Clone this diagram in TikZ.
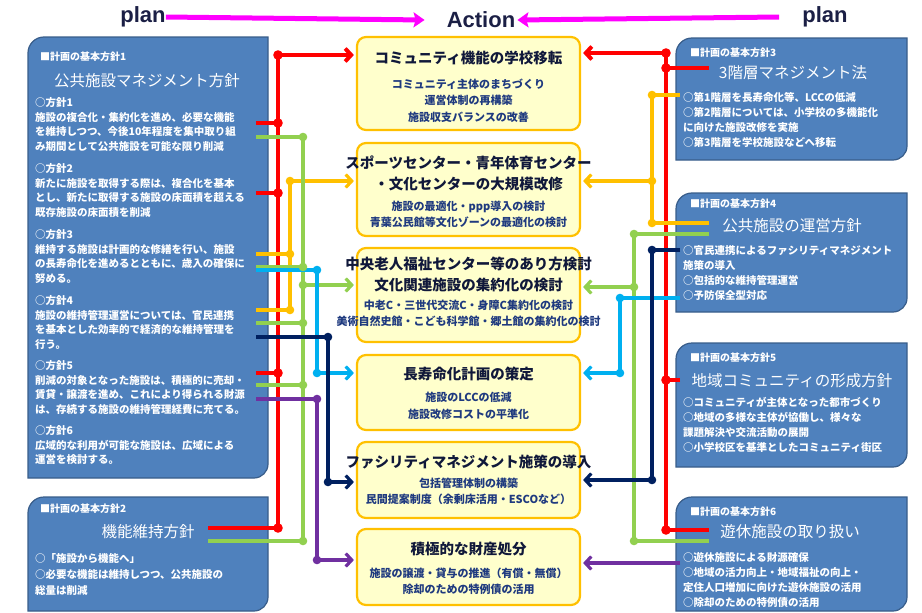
\documentclass[tikz,border=0pt]{standalone}
\usepackage{fontspec}
\usepackage{xcolor}
\usepackage{tikz}
\usetikzlibrary{arrows.meta}
\newfontfamily\jp{Noto Sans CJK JP}
\newfontfamily\lat{Liberation Sans}
\definecolor{cRed}{RGB}{255,0,0}
\definecolor{cGreen}{RGB}{146,208,80}
\definecolor{cYellow}{RGB}{255,192,0}
\definecolor{cCyan}{RGB}{0,176,240}
\definecolor{cNavy}{RGB}{0,32,96}
\definecolor{cPurple}{RGB}{112,48,160}

\begin{document}
\begin{tikzpicture}[x=1pt,y=1pt,yscale=-1,xscale=1,
  planbox/.style={draw={rgb,255:red,56;green,93;blue,138}, fill={rgb,255:red,79;green,129;blue,189}, line width=1.2pt},
  actbox/.style={draw=cYellow, fill={rgb,255:red,255;green,255;blue,204}, line width=2.2pt, rounded corners=9pt, minimum width=223pt, inner sep=0pt},
  headtxt/.style={text=white, font=\jp\bfseries\fontsize{10}{12}\selectfont, anchor=west, inner sep=0pt},
  titletxt/.style={text=white, font=\jp\fontsize{15.5}{18}\selectfont, inner sep=0pt},
  bodytxt/.style={text=white, font=\jp\bfseries\fontsize{10.5}{14.6}\selectfont, align=left, anchor=north west, inner sep=0pt},
  acttitle/.style={text={rgb,255:red,16;green,24;blue,58}, font=\jp\bfseries\fontsize{14.5}{21}\selectfont, align=center, inner sep=0pt},
  actsub/.style={text={rgb,255:red,31;green,58;blue,127}, font=\jp\bfseries\fontsize{11}{16.5}\selectfont, align=center, inner sep=0pt},
  plantxt/.style={text={rgb,255:red,27;green,31;blue,69}, font=\lat\bfseries\fontsize{22}{24}\selectfont, inner sep=0pt},
  planline/.style={draw={rgb,255:red,255;green,0;blue,255}, line width=5pt, -{Stealth[length=11pt,width=15pt,inset=2pt]}},
  wire/.style={draw=#1, line width=3.2pt, line join=round},
  tip/.style={-{Straight Barb[length=6pt,width=13pt]}, shorten >=2pt}]
\useasboundingbox (0,0) rectangle (922,613);

%Shape: Round Diagonal Corner Rectangle (left 1)
\draw [planbox] (28,478) -- (28,53) .. controls (28,44.16) and (35.16,37) .. (44,37) -- (268,37) -- (268,464) .. controls (268,471.73) and (261.73,478) .. (254,478) -- cycle ;
%Shape: Round Diagonal Corner Rectangle (left 2)
\draw [planbox] (28,611) -- (28,513) .. controls (28,504.16) and (35.16,497) .. (44,497) -- (268,497) -- (268,597) .. controls (268,604.73) and (261.73,611) .. (254,611) -- cycle ;
%Shape: Round Diagonal Corner Rectangle (right 3)
\draw [planbox] (676,160) -- (676,54) .. controls (676,45.16) and (683.16,38) .. (692,38) -- (907,38) -- (907,146) .. controls (907,153.73) and (900.73,160) .. (893,160) -- cycle ;
%Shape: Round Diagonal Corner Rectangle (right 4)
\draw [planbox] (676,312) -- (676,209) .. controls (676,200.16) and (683.16,193) .. (692,193) -- (907,193) -- (907,298) .. controls (907,305.73) and (900.73,312) .. (893,312) -- cycle ;
%Shape: Round Diagonal Corner Rectangle (right 5)
\draw [planbox] (676,467) -- (676,359) .. controls (676,350.16) and (683.16,343) .. (692,343) -- (907,343) -- (907,453) .. controls (907,460.73) and (900.73,467) .. (893,467) -- cycle ;
%Shape: Round Diagonal Corner Rectangle (right 6)
\draw [planbox] (676,611) -- (676,513) .. controls (676,504.16) and (683.16,497) .. (692,497) -- (907,497) -- (907,597) .. controls (907,604.73) and (900.73,611) .. (893,611) -- cycle ;

%Rounded Rect (action boxes)
\node [actbox, minimum height=93pt] (c1) at (468.5,83.5) {};
\node [actbox, minimum height=93pt] (c2) at (468.5,189.5) {};
\node [actbox, minimum height=94pt] (c3) at (468.5,295) {};
\node [actbox, minimum height=75pt] (c4) at (468.5,392.5) {};
\node [actbox, minimum height=76pt] (c5) at (468.5,480) {};
\node [actbox, minimum height=76pt] (c6) at (468.5,567) {};

% Text Node (header)
\node [plantxt] (planL) at (143,17) {plan};
\node [plantxt] (action) at (481,20) {Action};
\node [plantxt] (planR) at (825,17) {plan};
% Connection
\draw [planline] (planL.east) -- ([xshift=-22pt]action.west);
\draw [planline] ([xshift=-23pt]planR.west) -- ([xshift=2pt]action.east);

% Text Node (left 1)
\node [headtxt] (h1) at (40,57) {■計画の基本方針1};
\node [titletxt] (f1) at (147,81) {公共施設マネジメント方針};
\node [bodytxt] (p11) at (35,97.2) {○方針1\\施設の複合化・集約化を進め、必要な機能\\を維持しつつ、今後10年程度を集中取り組\\み期間として公共施設を可能な限り削減};
\node [bodytxt] (p12) at (35,163.2) {○方針2\\新たに施設を取得する際は、複合化を基本\\とし、新たに取得する施設の床面積を超える\\既存施設の床面積を削減};
\node [bodytxt] (p13) at (35,229.2) {○方針3\\維持する施設は計画的な修繕を行い、施設\\の長寿命化を進めるとともに、歳入の確保に\\努める。};
\node [bodytxt] (p14) at (35,295.2) {○方針4\\施設の維持管理運営については、官民連携\\を基本とした効率的で経済的な維持管理を\\行う。};
\node [bodytxt] (p15) at (35,360.2) {○方針5\\削減の対象となった施設は、積極的に売却・\\賃貸・譲渡を進め、これにより得られる財源\\は、存続する施設の維持管理経費に充てる。};
\node [bodytxt] (p16) at (35,425.2) {○方針6\\広域的な利用が可能な施設は、広域による\\運営を検討する。};
% Text Node (left 2)
\node [headtxt] (h2) at (40,509) {■計画の基本方針2};
\node [titletxt] (f2) at (148,532) {機能維持方針};
\node [bodytxt, font=\jp\bfseries\fontsize{10.5}{16}\selectfont] (p21) at (35,553.2) {○「施設から機能へ」\\○必要な機能は維持しつつ、公共施設の\\総量は削減};

% Text Node (right 3)
\node [headtxt] (h3) at (690,53) {■計画の基本方針3};
\node [titletxt] (f3) at (793,73) {3階層マネジメント法};
\node [bodytxt, font=\jp\bfseries\fontsize{10.5}{15}\selectfont] (p3) at (683,92.2) {○第1階層を長寿命化等、LCCの低減\\○第2階層については、小学校の多機能化\\に向けた施設改修を実施\\○第3階層を学校施設などへ移転};
% Text Node (right 4)
\node [headtxt] (h4) at (690,204) {■計画の基本方針4};
\node [titletxt] (f4) at (792,226) {公共施設の運営方針};
\node [bodytxt, font=\jp\bfseries\fontsize{10.5}{15}\selectfont] (p4) at (683,245.2) {○官民連携によるファシリティマネジメント\\施策の導入\\○包括的な維持管理運営\\○予防保全型対応};
% Text Node (right 5)
\node [headtxt] (h5) at (690,358) {■計画の基本方針5};
\node [titletxt] (f5) at (792,381) {地域コミュニティの形成方針};
\node [bodytxt, font=\jp\bfseries\fontsize{10.5}{15}\selectfont] (p5) at (683,397.2) {○コミュニティが主体となった都市づくり\\○地域の多様な主体が協働し、様々な\\課題解決や交流活動の展開\\○小学校区を基準としたコミュニティ街区};
% Text Node (right 6)
\node [headtxt] (h6) at (690,512) {■計画の基本方針6};
\node [titletxt] (f6) at (790,532) {遊休施設の取り扱い};
\node [bodytxt, font=\jp\bfseries\fontsize{10.5}{15}\selectfont] (p6) at (683,552.2) {○遊休施設による財源確保\\○地域の活力向上・地域福祉の向上・\\定住人口増加に向けた遊休施設の活用\\○除却のための特例債の活用};

% Text Node (action boxes)
\node [acttitle] (t1) at (468.5,58) {コミュニティ機能の学校移転};
\node [actsub] (s1) at (468.5,100.5) {コミュニティ主体のまちづくり\\運営体制の再構築\\施設収支バランスの改善};
\node [acttitle] (t2) at (468.5,173.5) {スポーツセンター・青年体育センター\\・文化センターの大規模改修};
\node [actsub, font=\jp\bfseries\fontsize{11}{15.5}\selectfont] (s2) at (468.5,214.5) {施設の最適化・ppp導入の検討\\青葉公民館等文化ゾーンの最適化の検討};
\node [acttitle] (t3) at (468.5,274) {中央老人福祉センター等のあり方検討\\文化関連施設の集約化の検討};
\node [actsub] (s3) at (468.5,313.5) {中老C・三世代交流C・身障C集約化の検討\\美術自然史館・こども科学館・郷土館の集約化の検討};
\node [acttitle] (t4) at (468.5,374) {長寿命化計画の策定};
\node [actsub] (s4) at (468.5,406) {施設のLCCの低減\\施設改修コストの平準化};
\node [acttitle] (t5) at (468.5,462) {ファシリティマネジメント施策の導入};
\node [actsub] (s5) at (468.5,491.5) {包括管理体制の構築\\民間提案制度（余剰床活用・ESCOなど）};
\node [acttitle] (t6) at (468.5,549) {積極的な財産処分};
\node [actsub] (s6) at (468.5,581.5) {施設の譲渡・貸与の推進（有償・無償）\\除却のための特例債の活用};

% junctions, left side
\coordinate (Lx) at (256,0);
\coordinate (Lb) at (208,0);
\coordinate (lr0) at (278,55);
\coordinate (lr1) at (278,123);
\coordinate (lr2) at (278,193);
\coordinate (lr5) at (278,373);
\coordinate (lr9) at (278,528);
\coordinate (ly0) at (290,181);
\coordinate (ly1) at (290,254);
\coordinate (ly2) at (290,310);
\coordinate (lg1) at (303,137);
\coordinate (lg2) at (303,267);
\coordinate (lg0) at (303,285);
\coordinate (lg3) at (303,323);
\coordinate (lg4) at (303,385);
\coordinate (lg9) at (303,541);
\coordinate (lc1) at (317,270);
\coordinate (lc0) at (317,373);
\coordinate (ln1) at (328,337);
\coordinate (ln0) at (328,482);
\coordinate (lp1) at (317,399);
\coordinate (lp0) at (317,560);
% junctions, right side
\coordinate (Rx) at (680,0);
\coordinate (Rt) at (709,0);
\coordinate (rr0) at (666,53);
\coordinate (rr1) at (666,68);
\coordinate (rr5) at (666,380);
\coordinate (rr6) at (666,530);
\coordinate (ry1) at (652,95);
\coordinate (ry0) at (652,181);
\coordinate (ry2) at (652,223);
\coordinate (rg1) at (634,234);
\coordinate (rg0) at (634,287);
\coordinate (rg9) at (634,541);
\coordinate (rc1) at (620,298);
\coordinate (rc0) at (620,373);
\coordinate (rn1) at (652,250);
\coordinate (rn0) at (652,480);
\coordinate (rp1) at (680,563);

% Connection (left)
\draw [wire=cRed, line width=4pt] (lr0) -- (lr9) (Lx |- lr1) -- (lr1) (Lx |- lr2) -- (lr2) (Lx |- lr5) -- (lr5) (Lb |- lr9) -- (lr9);
\draw [wire=cRed, line width=4pt, tip] (lr0) -- (c1.west |- lr0);
\draw [wire=cYellow] (ly0) -- (ly2) (Lx |- ly1) -- (ly1) (Lx |- ly2) -- (ly2);
\draw [wire=cYellow, tip] (ly0) -- (c2.west |- ly0);
\draw [wire=cGreen] (lg1) -- (lg9) (Lx |- lg1) -- (lg1) (Lx |- lg2) -- (lg2) (Lx |- lg3) -- (lg3) (Lx |- lg4) -- (lg4) (Lb |- lg9) -- (lg9);
\draw [wire=cGreen, tip] (lg0) -- (c3.west |- lg0);
\draw [wire=cCyan, tip] (Lx |- lc1) -- (lc1) -- (lc0) -- (c4.west |- lc0);
\draw [wire=cNavy, tip] (Lx |- ln1) -- (ln1) -- (ln0) -- (c5.west |- ln0);
\draw [wire=cPurple, tip] (Lx |- lp1) -- (lp1) -- (lp0) -- (c6.west |- lp0);
% Connection (right)
\draw [wire=cRed, line width=4pt] (rr0) -- (rr6) (Rt |- rr1) -- (rr1) (Rx |- rr5) -- (rr5) (Rt |- rr6) -- (rr6);
\draw [wire=cRed, line width=4pt, tip] (rr0) -- (c1.east |- rr0);
\draw [wire=cYellow] (ry1) -- (ry2) (Rx |- ry1) -- (ry1) (Rt |- ry2) -- (ry2);
\draw [wire=cYellow, tip] (ry0) -- (c2.east |- ry0);
\draw [wire=cGreen] (rg1) -- (rg9) (Rt |- rg1) -- (rg1) (Rt |- rg9) -- (rg9);
\draw [wire=cGreen, tip] (rg0) -- (c3.east |- rg0);
\draw [wire=cCyan, tip] (Rx |- rc1) -- (rc1) -- (rc0) -- (c4.east |- rc0);
\draw [wire=cNavy, tip] (Rx |- rn1) -- (rn1) -- (rn0) -- (c5.east |- rn0);
\draw [wire=cPurple, tip] (rp1) -- (c6.east |- rp1);

% junction dots
\fill [cRed] (lr0) circle (4.8pt) (lr1) circle (4.8pt) (lr2) circle (4.8pt) (lr5) circle (4.8pt) (lr9) circle (4.8pt) (rr0) circle (4.8pt) (rr1) circle (4.8pt) (rr5) circle (4.8pt) (rr6) circle (4.8pt);
\fill [cYellow] (ly0) circle (4.3pt) (ly1) circle (4.3pt) (ly2) circle (4.3pt) (ry1) circle (4.3pt) (ry0) circle (4.3pt) (ry2) circle (4.3pt);
\fill [cGreen] (lg1) circle (4.3pt) (lg2) circle (4.3pt) (lg0) circle (4.3pt) (lg3) circle (4.3pt) (lg4) circle (4.3pt) (lg9) circle (4.3pt) (rg1) circle (4.3pt) (rg0) circle (4.3pt) (rg9) circle (4.3pt);
\fill [cCyan] (lc1) circle (4.3pt) (lc0) circle (4.3pt) (rc1) circle (4.3pt) (rc0) circle (4.3pt);
\fill [cNavy] (ln1) circle (4.3pt) (ln0) circle (4.3pt) (rn1) circle (4.3pt) (rn0) circle (4.3pt);
\fill [cPurple] (lp1) circle (4.3pt) (lp0) circle (4.3pt);

\end{tikzpicture}
\end{document}
